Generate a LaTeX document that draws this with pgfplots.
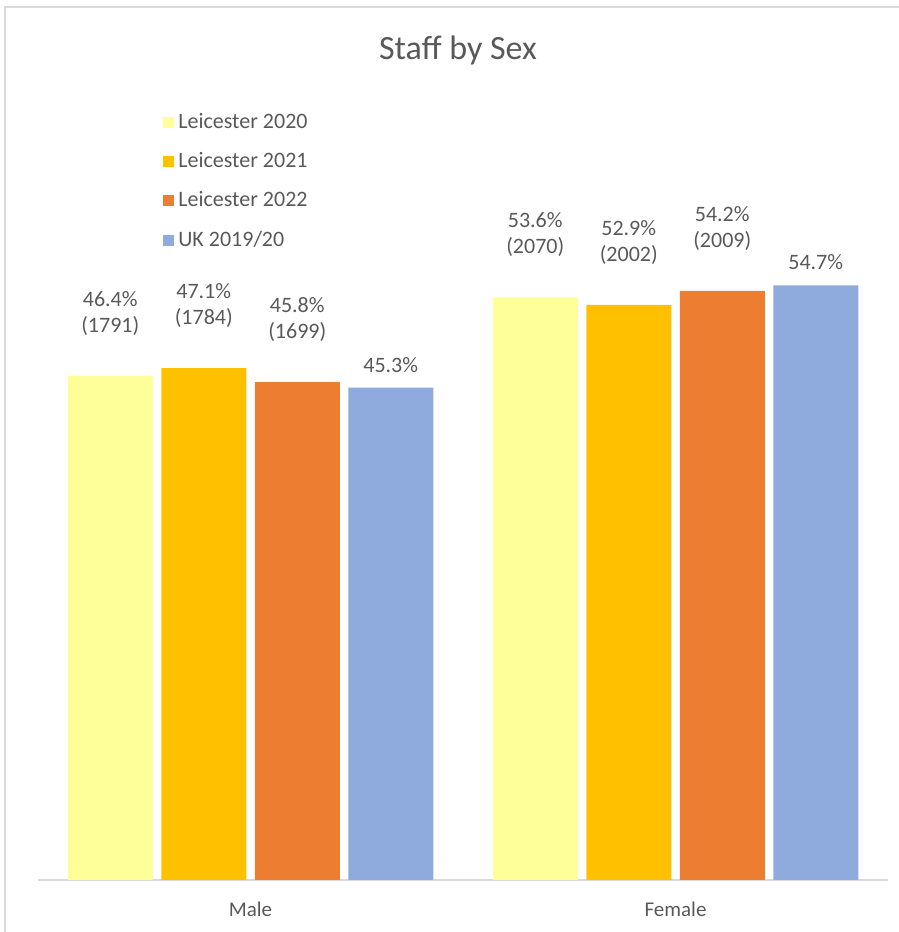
\documentclass[border=0pt]{standalone}
\usepackage{pgfplots}
\pgfplotsset{compat=1.18}
\usepackage{fontspec}
\setmainfont{Carlito}
\definecolor{txt}{HTML}{595959}
\definecolor{grid}{HTML}{D9D9D9}
\definecolor{cA}{HTML}{FFFF99}
\definecolor{cB}{HTML}{FFC000}
\definecolor{cC}{HTML}{ED7D31}
\definecolor{cD}{HTML}{8FAADC}
\begin{document}
\begin{tikzpicture}
\path[use as bounding box] (-19pt,-26pt) rectangle (430.5pt,440pt);
\draw[grid, line width=0.75pt] (-16.5pt,-26pt) -- (-16.5pt,436.5pt) -- (430.5pt,436.5pt);
\node[text=txt, font=\fontsize{17}{20}\selectfont] at (210pt,415pt) {Staff by Sex};
\begin{axis}[
  at={(0,0)}, anchor=south west,
  scale only axis, width=425pt, height=391.3pt,
  xmin=-0.5, xmax=1.5, ymin=0, ymax=72,
  clip=false,
  ybar, bar width=0.2,
  axis y line=none,
  axis x line*=bottom,
  x axis line style={grid, line width=0.75pt, -},
  xtick={0,1}, xticklabels={Male,Female},
  xtick style={draw=none},
  xticklabel style={text=txt, font=\fontsize{10.5}{12}\selectfont, yshift=-3pt},
  point meta=explicit symbolic,
  nodes near coords,
  every node near coord/.append style={text=txt, font=\fontsize{11}{13}\selectfont, align=center, anchor=south, inner sep=0pt},
  legend style={at={(0.147,0.985)}, anchor=north west, draw=none, fill=none, inner sep=0pt,
    font=\fontsize{11}{13}\selectfont, text=txt, row sep=6.5pt},
  legend cell align=left,
  legend image code/.code={\fill[#1] (0pt,-2.75pt) rectangle (5.5pt,2.75pt);},
  every legend entry/.append style={xshift=1.5pt},
]
\addplot[fill=cA, draw=none, bar shift=-0.33, every node near coord/.append style={yshift=20pt}]
  coordinates {(0,46.4) [{46.4\%\\(1791)}] (1,53.6) [{53.6\%\\(2070)}]};
\addplot[fill=cB, draw=none, bar shift=-0.11, every node near coord/.append style={yshift=20pt}]
  coordinates {(0,47.1) [{47.1\%\\(1784)}] (1,52.9) [{52.9\%\\(2002)}]};
\addplot[fill=cC, draw=none, bar shift=0.11, every node near coord/.append style={yshift=20pt}]
  coordinates {(0,45.8) [{45.8\%\\(1699)}] (1,54.2) [{54.2\%\\(2009)}]};
\addplot[fill=cD, draw=none, bar shift=0.33, every node near coord/.append style={yshift=7.5pt}]
  coordinates {(0,45.3) [{45.3\%}] (1,54.7) [{54.7\%}]};
\legend{Leicester 2020, Leicester 2021, Leicester 2022, UK 2019/20}
\end{axis}
\end{tikzpicture}
\end{document}
